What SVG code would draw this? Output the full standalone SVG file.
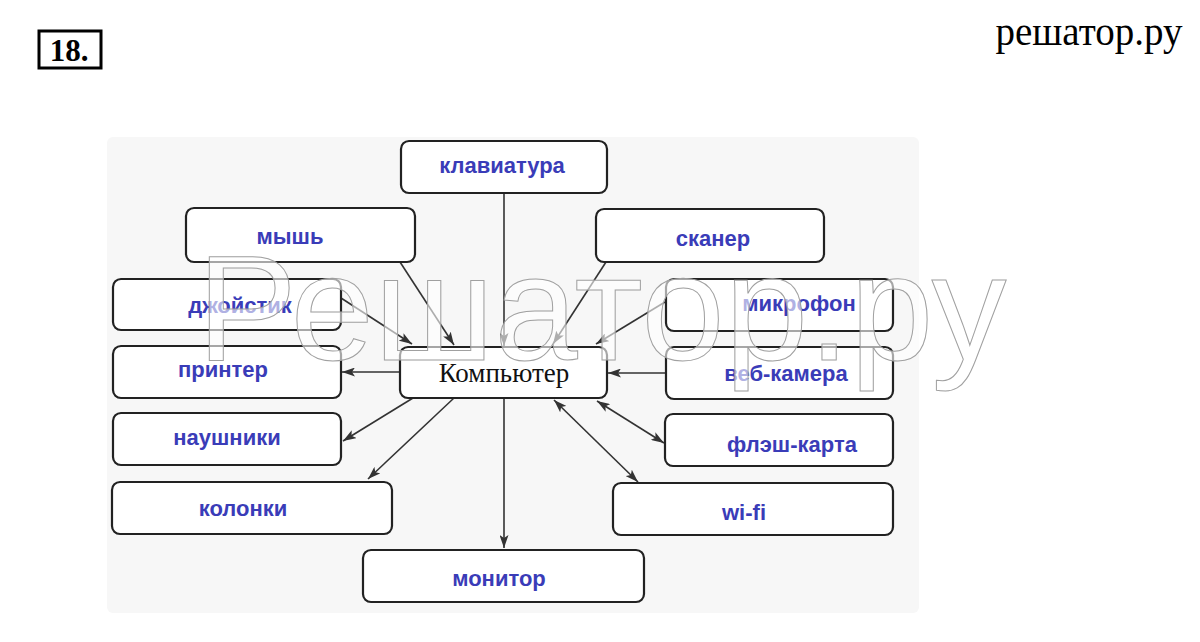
<svg xmlns="http://www.w3.org/2000/svg" width="1200" height="642" viewBox="0 0 1200 642">
<defs>
<style>
.box{fill:#ffffff;stroke:#222;stroke-width:2.2}
.lbl{font-family:"Liberation Sans",Arial,sans-serif;font-weight:bold;font-size:22px;fill:#3a3cb8;text-anchor:middle}
.comp{font-family:"Liberation Serif","Times New Roman",serif;font-size:27px;fill:#111;text-anchor:middle}
.ln{stroke:#333;stroke-width:1.6;fill:none}
</style>
<marker id="ah" viewBox="0 0 13 9" refX="13" refY="4.5" markerWidth="13" markerHeight="9" markerUnits="userSpaceOnUse" orient="auto-start-reverse">
<path d="M0,0 L13,4.5 L0,9 L3,4.5 Z" fill="#333"/>
</marker>
</defs>
<rect x="0" y="0" width="1200" height="642" fill="#ffffff"/>
<rect x="107" y="137" width="812" height="476" rx="6" fill="#f7f7f7"/>
<g id="title">
<rect x="39" y="31" width="62" height="37" fill="#fff" stroke="#000" stroke-width="3"/>
<text x="69" y="61" font-family="Liberation Serif,Times New Roman,serif" font-weight="bold" font-size="31" text-anchor="middle" fill="#000">18.</text>
<text x="1089" y="45" font-family="Liberation Serif,Times New Roman,serif" font-size="39" text-anchor="middle" fill="#000">решатор.ру</text>
</g>
<g id="connectors">
<line class="ln" x1="504" y1="193" x2="504" y2="346" marker-end="url(#ah)"/>
<line class="ln" x1="400" y1="262" x2="454" y2="345" marker-end="url(#ah)"/>
<line class="ln" x1="341" y1="298" x2="412" y2="344" marker-end="url(#ah)"/>
<line class="ln" x1="606" y1="262" x2="553" y2="344" marker-end="url(#ah)"/>
<line class="ln" x1="665" y1="302" x2="596" y2="344" marker-end="url(#ah)"/>
<line class="ln" x1="666" y1="373" x2="608" y2="373" marker-end="url(#ah)"/>
<line class="ln" x1="400" y1="372" x2="342" y2="372" marker-end="url(#ah)"/>
<line class="ln" x1="413" y1="398" x2="343" y2="441" marker-end="url(#ah)"/>
<line class="ln" x1="454" y1="398" x2="368" y2="479" marker-end="url(#ah)"/>
<line class="ln" x1="504" y1="398" x2="504" y2="548" marker-end="url(#ah)"/>
<line class="ln" x1="554" y1="400" x2="638" y2="482" marker-start="url(#ah)" marker-end="url(#ah)"/>
<line class="ln" x1="597" y1="401" x2="664" y2="443" marker-start="url(#ah)" marker-end="url(#ah)"/>
</g>
<g id="n-klaviatura"><rect class="box" x="401" y="141" width="206" height="52" rx="8"/><text class="lbl" x="502" y="173">клавиатура</text></g>
<g id="n-mysh"><rect class="box" x="186" y="208" width="229" height="54" rx="8"/><text class="lbl" x="290" y="244">мышь</text></g>
<g id="n-skaner"><rect class="box" x="596" y="209" width="228" height="53" rx="8"/><text class="lbl" x="713" y="246">сканер</text></g>
<g id="n-dzhoystik"><rect class="box" x="113" y="279" width="228" height="51" rx="8"/><text class="lbl" x="240" y="313">джойстик</text></g>
<g id="n-mikrofon"><rect class="box" x="666" y="279" width="227" height="52" rx="8"/><text class="lbl" x="799" y="311">микрофон</text></g>
<g id="n-printer"><rect class="box" x="113" y="346" width="228" height="52" rx="8"/><text class="lbl" x="223" y="377">принтер</text></g>
<g id="n-kompyuter"><rect class="box" x="400" y="347" width="207" height="51" rx="8"/><text class="comp" x="504" y="382">Компьютер</text></g>
<g id="n-vebkamera"><rect class="box" x="666" y="347" width="227" height="52" rx="8"/><text class="lbl" x="786" y="381">веб-камера</text></g>
<g id="n-naushniki"><rect class="box" x="113" y="413" width="228" height="52" rx="8"/><text class="lbl" x="227" y="445">наушники</text></g>
<g id="n-flesh"><rect class="box" x="665" y="414" width="228" height="52" rx="8"/><text class="lbl" x="792" y="452">флэш-карта</text></g>
<g id="n-kolonki"><rect class="box" x="112" y="482" width="280" height="52" rx="8"/><text class="lbl" x="243" y="516">колонки</text></g>
<g id="n-wifi"><rect class="box" x="613" y="483" width="280" height="52" rx="8"/><text class="lbl" x="744" y="520">wi-fi</text></g>
<g id="n-monitor"><rect class="box" x="363" y="550" width="281" height="52" rx="8"/><text class="lbl" x="499" y="586">монитор</text></g>
<g id="watermark">
<text x="197" y="360" font-family="Liberation Sans,Arial,sans-serif" font-size="150" fill="#ffffff" fill-opacity="0.6" stroke="#a0a0a0" stroke-width="1">Решатор.ру</text>
</g>
</svg>
